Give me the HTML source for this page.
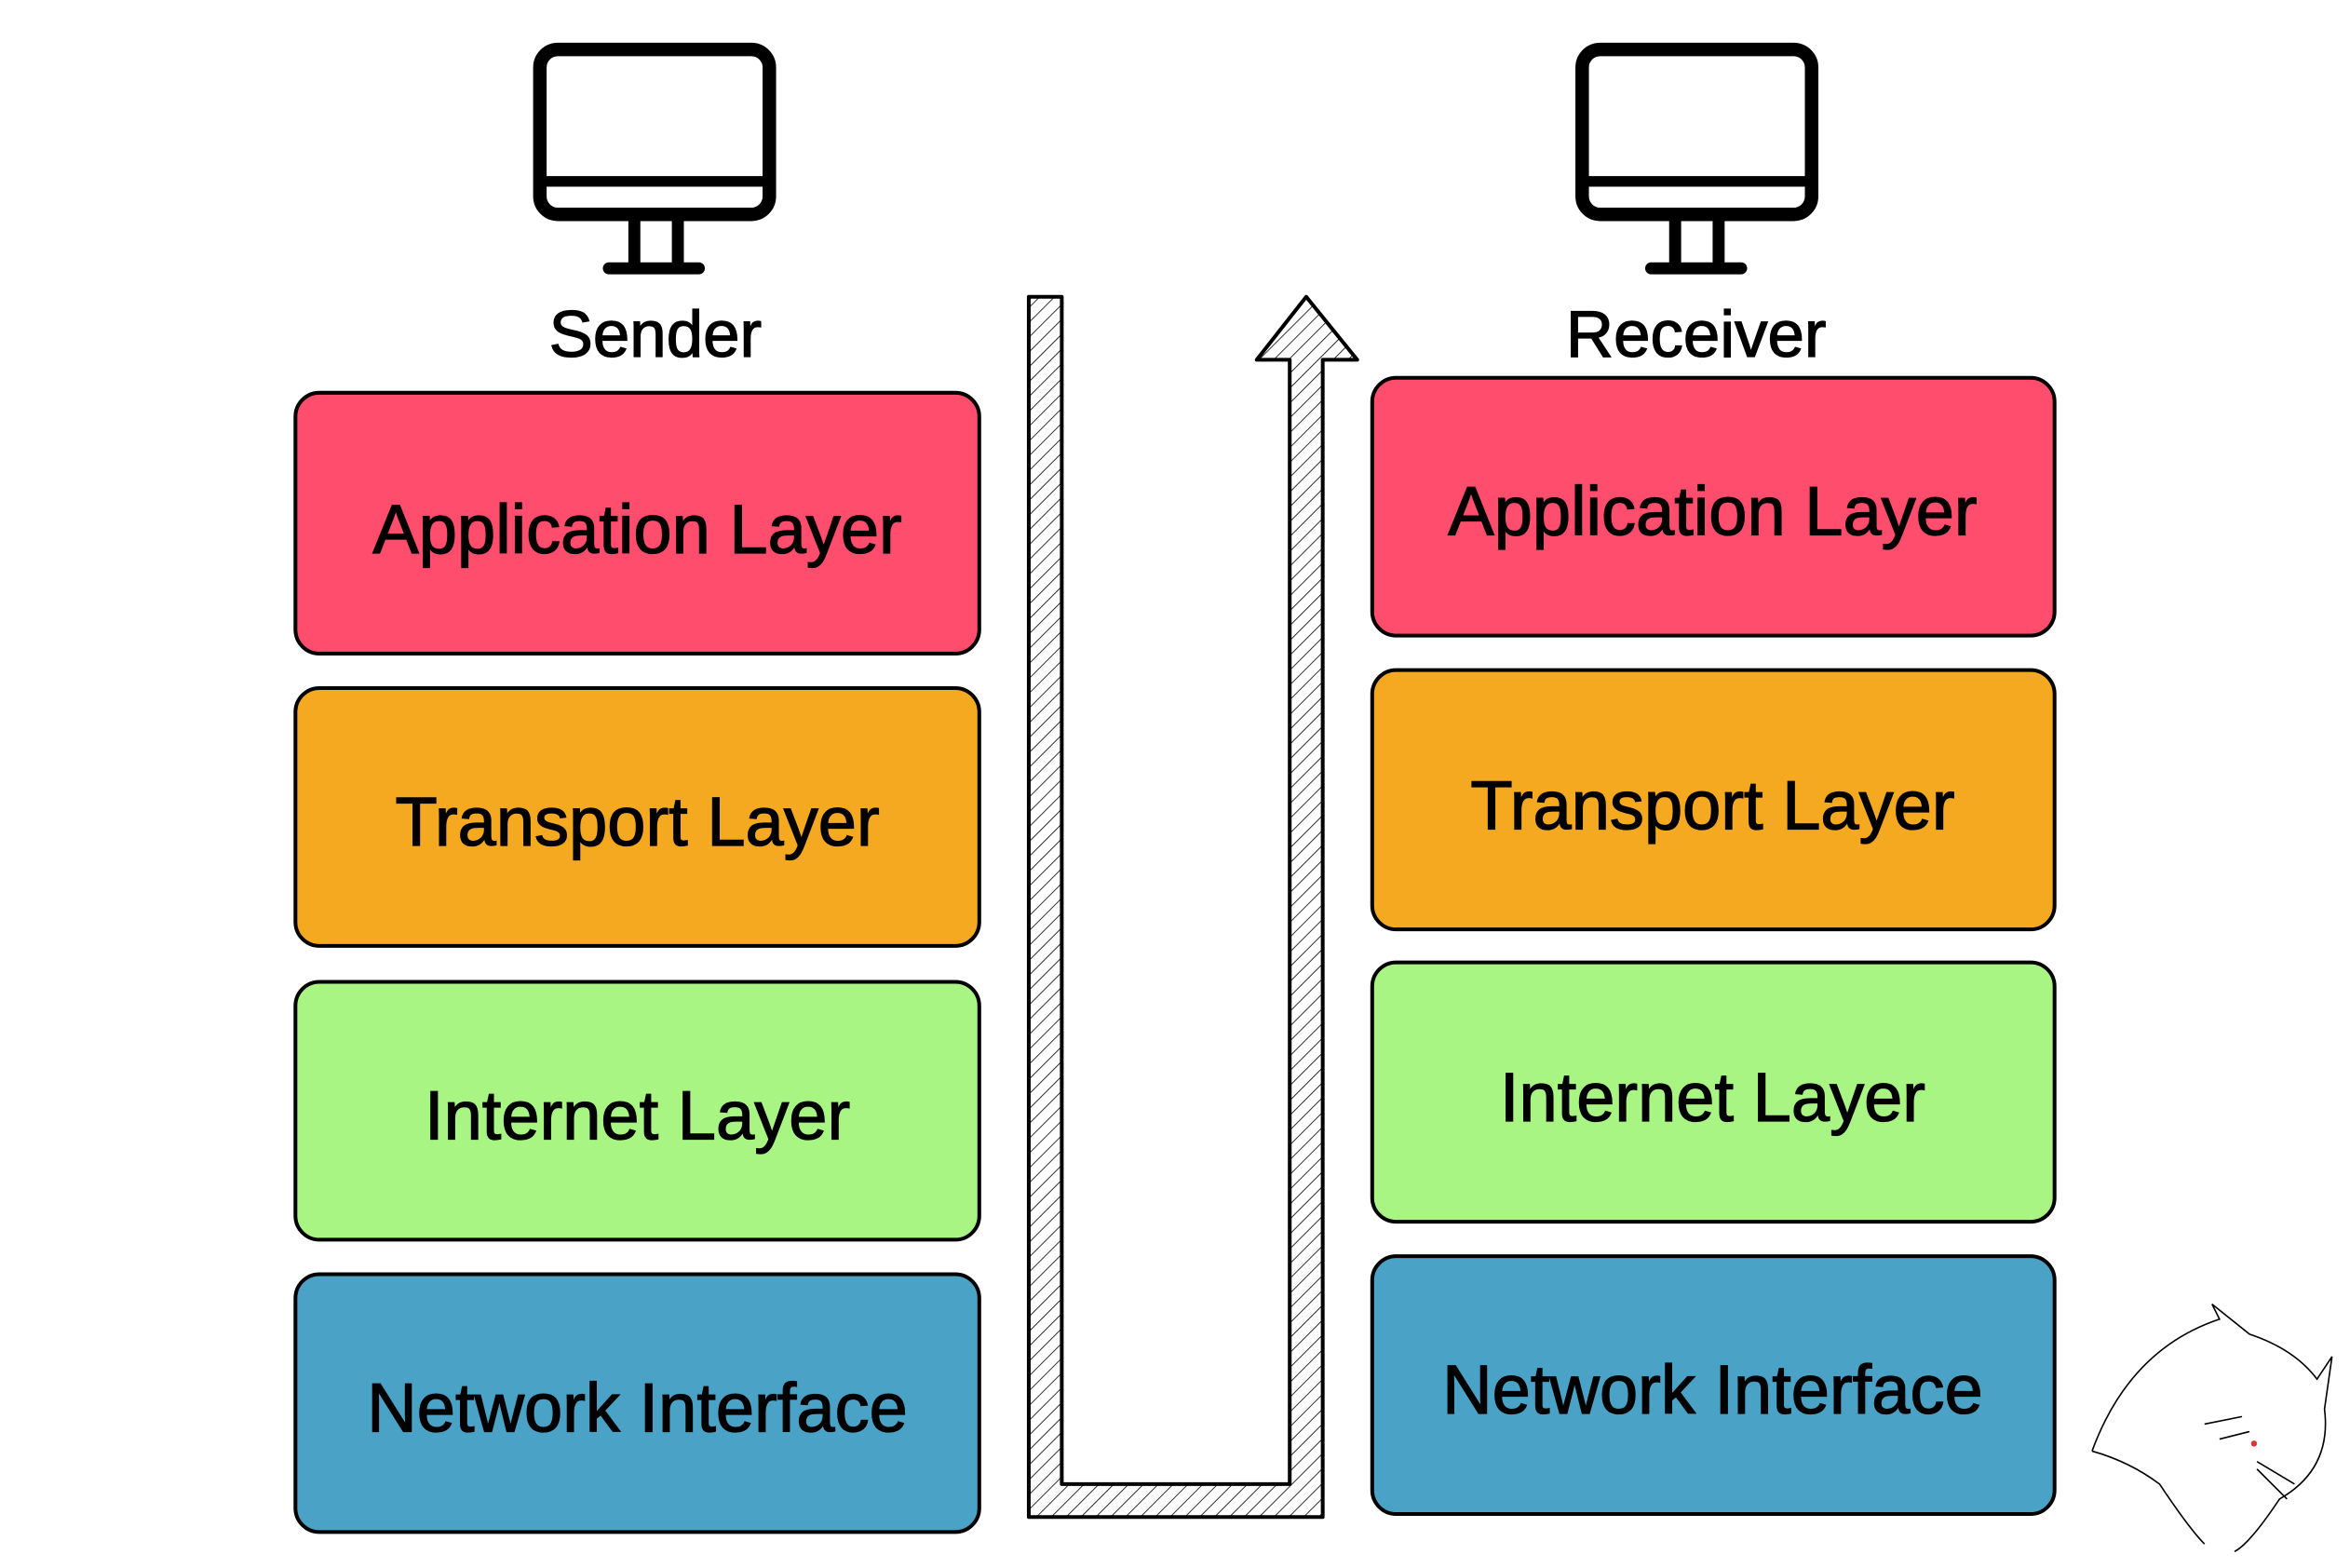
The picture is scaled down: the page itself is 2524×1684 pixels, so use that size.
<!DOCTYPE html>
<html><head><meta charset="utf-8"><style>html,body{margin:0;padding:0;background:#fff}svg{display:block}</style></head>
<body>
<svg width="2524" height="1684" viewBox="0 0 1567 1046" preserveAspectRatio="none" xmlns="http://www.w3.org/2000/svg">
<defs>
<pattern id="h" width="7" height="7" patternUnits="userSpaceOnUse" patternTransform="rotate(45)">
<line x1="0" y1="0" x2="0" y2="7" stroke="#000" stroke-width="1"/>
</pattern>
</defs>
<rect width="1567" height="1046" fill="#fff"/>
<g fill="none" stroke="#000" stroke-linecap="round" stroke-linejoin="round">
<rect x="360" y="33" width="153" height="110" rx="12" stroke-width="9"/>
<line x1="362" y1="121" x2="511" y2="121" stroke-width="7"/>
<line x1="423" y1="145" x2="423" y2="176" stroke-width="8"/>
<line x1="452" y1="145" x2="452" y2="176" stroke-width="8"/>
<line x1="406" y1="179" x2="466" y2="179" stroke-width="8"/>
<rect x="1055" y="33" width="153" height="110" rx="12" stroke-width="9"/>
<line x1="1057" y1="121" x2="1206" y2="121" stroke-width="7"/>
<line x1="1117" y1="145" x2="1117" y2="176" stroke-width="8"/>
<line x1="1146" y1="145" x2="1146" y2="176" stroke-width="8"/>
<line x1="1101" y1="179" x2="1161" y2="179" stroke-width="8"/>
</g>
<g font-family="'Comic Sans MS','Liberation Sans',sans-serif" font-size="44" text-anchor="middle" fill="#000" stroke="#000" stroke-width="0.8">
<text x="437" y="238">Sender</text>
<text x="1131" y="238">Receiver</text>
</g>
<g stroke="#000" stroke-width="2.5">
<rect x="197" y="262" width="456" height="174" rx="16" fill="#ff4d6d"/>
<rect x="197" y="459" width="456" height="172" rx="16" fill="#f5a920"/>
<rect x="197" y="655" width="456" height="172" rx="16" fill="#a9f583"/>
<rect x="197" y="850" width="456" height="172" rx="16" fill="#4aa3c6"/>
<rect x="915" y="252" width="455" height="172" rx="16" fill="#ff4d6d"/>
<rect x="915" y="447" width="455" height="173" rx="16" fill="#f5a920"/>
<rect x="915" y="642" width="455" height="173" rx="16" fill="#a9f583"/>
<rect x="915" y="838" width="455" height="172" rx="16" fill="#4aa3c6"/>
</g>
<g font-family="'Comic Sans MS','Liberation Sans',sans-serif" font-size="46" text-anchor="middle" fill="#000" stroke="#000" stroke-width="0.8">
<text x="425" y="369">Application Layer</text>
<text x="425" y="564">Transport Layer</text>
<text x="425" y="760">Internet Layer</text>
<text x="425" y="955">Network Interface</text>
<text x="1142" y="357">Application Layer</text>
<text x="1142" y="553">Transport Layer</text>
<text x="1142" y="748">Internet Layer</text>
<text x="1142" y="943">Network Interface</text>
</g>
<path d="M686 198 L708 198 L708 990 L860 990 L860 240 L838 240 L871 198 L905 240 L882 240 L882 1012 L686 1012 Z" fill="url(#h)" stroke="#000" stroke-width="2.5" stroke-linejoin="round"/>
<g fill="none" stroke="#000" stroke-width="1">
<path d="M1395 968 Q1420 900 1480 880 L1475 870 L1500 890 Q1530 900 1545 920 L1555 905 L1550 940 Q1555 980 1520 1000 Q1500 1030 1490 1035"/>
<path d="M1395 968 Q1420 975 1440 990 Q1460 1020 1470 1030"/>
<path d="M1480 960 L1500 955 M1470 950 L1495 945 M1505 975 L1530 990 M1505 980 L1525 1000"/>
<circle cx="1503" cy="963" r="2" fill="#d33" stroke="none"/>
</g>
</svg>
</body></html>
